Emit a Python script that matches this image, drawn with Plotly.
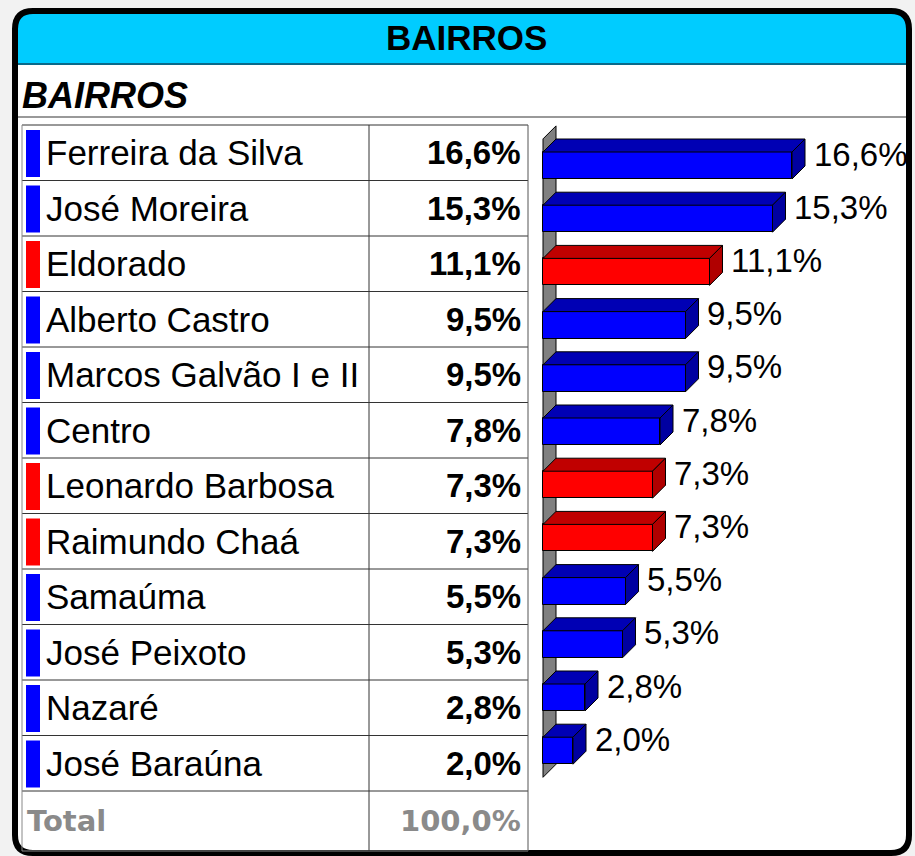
import plotly.graph_objects as go

# ---------------- data ----------------
bairros = ["Ferreira da Silva", "José Moreira", "Eldorado", "Alberto Castro",
           "Marcos Galvão I e II", "Centro", "Leonardo Barbosa", "Raimundo Chaá",
           "Samaúma", "José Peixoto", "Nazaré", "José Baraúna"]
percentuais = [16.6, 15.3, 11.1, 9.5, 9.5, 7.8, 7.3, 7.3, 5.5, 5.3, 2.8, 2.0]
grupo = ["A", "A", "B", "A", "A", "A", "B", "B", "A", "A", "A", "A"]
total_label = "Total"
total_valor = 100.0
titulo = "BAIRROS"
subtitulo = "BAIRROS"

# ---------------- style ----------------
W, H = 915, 856
FONT = "Liberation Sans, Arial, sans-serif"
front_col = {"A": "#0000FF", "B": "#FF0000"}
top_col = {"A": "#0000B4", "B": "#C00000"}
side_col = {"A": "#0000A0", "B": "#B00000"}


def fmt(v):
    return f"{v:.1f}".replace(".", ",") + "%"


def PX(x):
    return x / W


def PY(y):
    return 1 - y / H


n = len(bairros)
idx = list(range(n))

# bar axis geometry (pixel mapping)
bar_x0_px, bar_px_per_unit = 543, 15.0
bar_row0_px, bar_row_px = 165.5, 53.2
xdom = (530, 912)
y2dom = (120, 790)
x_range = [(xdom[0] - bar_x0_px) / bar_px_per_unit, (xdom[1] - bar_x0_px) / bar_px_per_unit]
y2_range = [(y2dom[1] - bar_row0_px) / bar_row_px, (y2dom[0] - bar_row0_px) / bar_row_px]

hh = 13.5 / bar_row_px       # half height of bar face
dx = 13 / bar_px_per_unit    # depth in x
dy = 13 / bar_row_px         # depth in y

# table axis geometry
tab_top_px, tab_row_px = 125, 55.5
ydom = (118, 856)
y_range = [(ydom[1] - tab_top_px) / tab_row_px, (ydom[0] - tab_top_px) / tab_row_px]
col_l, col_m, col_r = 22, 369, 528
tot_bottom = (851 - tab_top_px) / tab_row_px

fig = go.Figure()

# dummy trace to register table subplot
fig.add_trace(go.Scatter(x=[None], y=[None], xaxis="x2", yaxis="y",
                         showlegend=False, hoverinfo="skip"))

# front faces of bars
fig.add_trace(go.Bar(
    x=percentuais, y=idx, orientation="h", xaxis="x", yaxis="y2",
    width=2 * hh, base=0,
    marker=dict(color=[front_col[g] for g in grupo], line=dict(color="black", width=1)),
    showlegend=False, hoverinfo="skip"))

shapes = []
annotations = []

# ---- frame ----
L, T, R, B, r = 15, 11, 909, 853, 18
frame_path = (f"M {PX(L+r)},{PY(T)} L {PX(R-r)},{PY(T)} Q {PX(R)},{PY(T)} {PX(R)},{PY(T+r)} "
              f"L {PX(R)},{PY(B-r)} Q {PX(R)},{PY(B)} {PX(R-r)},{PY(B)} "
              f"L {PX(L+r)},{PY(B)} Q {PX(L)},{PY(B)} {PX(L)},{PY(B-r)} "
              f"L {PX(L)},{PY(T+r)} Q {PX(L)},{PY(T)} {PX(L+r)},{PY(T)} Z")
shapes.append(dict(type="path", xref="paper", yref="paper", path=frame_path,
                   fillcolor="white", line=dict(width=0), layer="below"))
hb = 64
head_path = (f"M {PX(L+r)},{PY(T)} L {PX(R-r)},{PY(T)} Q {PX(R)},{PY(T)} {PX(R)},{PY(T+r)} "
             f"L {PX(R)},{PY(hb)} L {PX(L)},{PY(hb)} L {PX(L)},{PY(T+r)} "
             f"Q {PX(L)},{PY(T)} {PX(L+r)},{PY(T)} Z")
shapes.append(dict(type="path", xref="paper", yref="paper", path=head_path,
                   fillcolor="#00CCFF", line=dict(width=0), layer="below"))
shapes.append(dict(type="line", xref="paper", yref="paper", x0=PX(L), x1=PX(R),
                   y0=PY(hb), y1=PY(hb), line=dict(color="#0a6a8a", width=2), layer="below"))
shapes.append(dict(type="line", xref="paper", yref="paper", x0=PX(L), x1=PX(R),
                   y0=PY(117), y1=PY(117), line=dict(color="#777777", width=1.5), layer="below"))
shapes.append(dict(type="path", xref="paper", yref="paper", path=frame_path,
                   fillcolor="rgba(0,0,0,0)", line=dict(color="black", width=6), layer="above"))

# ---- table ----
for k in range(n + 1):
    shapes.append(dict(type="line", xref="x2", yref="y", x0=col_l, x1=col_r, y0=k, y1=k,
                       line=dict(color="#333333", width=1)))
shapes.append(dict(type="line", xref="x2", yref="y", x0=col_l, x1=col_r, y0=tot_bottom, y1=tot_bottom,
                   line=dict(color="#888888", width=1)))
for xc, colr in ((col_l, "#888888"), (col_m, "#333333"), (col_r, "#555555")):
    shapes.append(dict(type="line", xref="x2", yref="y", x0=xc, x1=xc, y0=0, y1=tot_bottom,
                       line=dict(color=colr, width=1)))

for i, (nm, v, g) in enumerate(zip(bairros, percentuais, grupo)):
    shapes.append(dict(type="rect", xref="x2", yref="y", x0=26, x1=40,
                       y0=i + 0.09, y1=i + 0.937, fillcolor=front_col[g], line=dict(width=0)))
    annotations.append(dict(xref="x2", yref="y", x=44, y=i + 0.5, text=nm,
                            xanchor="left", yanchor="middle", showarrow=False,
                            font=dict(family=FONT, size=35, color="black")))
    annotations.append(dict(xref="x2", yref="y", x=523, y=i + 0.5, text=f"<b>{fmt(v)}</b>",
                            xanchor="right", yanchor="middle", showarrow=False,
                            font=dict(family=FONT, size=33, color="black")))

tot_c = (n + tot_bottom) / 2
annotations.append(dict(xref="x2", yref="y", x=25, y=tot_c, text=f"<b>{total_label}</b>",
                        xanchor="left", yanchor="middle", showarrow=False,
                        font=dict(family="DejaVu Sans", size=29, color="#8a8a8a")))
annotations.append(dict(xref="x2", yref="y", x=523, y=tot_c, text=f"<b>{fmt(total_valor)}</b>",
                        xanchor="right", yanchor="middle", showarrow=False,
                        font=dict(family="DejaVu Sans", size=29, color="#8a8a8a")))

# ---- 3D bars ----
shapes.append(dict(type="path", xref="x", yref="y2", layer="below",
                   path=f"M 0,{-0.5} L {dx},{-0.5-dy} L {dx},{n-0.5-dy} L 0,{n-0.5} Z",
                   fillcolor="#808080", line=dict(color="black", width=1)))
for i, (v, g) in enumerate(zip(percentuais, grupo)):
    yt, yb = i - hh, i + hh
    shapes.append(dict(type="path", xref="x", yref="y2", layer="above",
                       path=f"M 0,{yt} L {v},{yt} L {v+dx},{yt-dy} L {dx},{yt-dy} Z",
                       fillcolor=top_col[g], line=dict(color="black", width=1)))
    shapes.append(dict(type="path", xref="x", yref="y2", layer="above",
                       path=f"M {v},{yt} L {v+dx},{yt-dy} L {v+dx},{yb-dy} L {v},{yb} Z",
                       fillcolor=side_col[g], line=dict(color="black", width=1)))
    annotations.append(dict(xref="x", yref="y2", x=v + dx + 0.45, y=i - 0.216, text=fmt(v),
                            xanchor="left", yanchor="middle", showarrow=False,
                            font=dict(family=FONT, size=33, color="black")))

# ---- titles ----
annotations.append(dict(xref="paper", yref="paper", x=PX(466), y=PY(38), text=f"<b>{titulo}</b>",
                        xanchor="center", yanchor="middle", showarrow=False,
                        font=dict(family=FONT, size=35, color="black")))
annotations.append(dict(xref="paper", yref="paper", x=PX(20), y=PY(95), text=f"<b><i>{subtitulo}</i></b>",
                        xanchor="left", yanchor="middle", showarrow=False,
                        font=dict(family=FONT, size=36, color="black")))

ax_common = dict(visible=False, fixedrange=True, showgrid=False, zeroline=False)
fig.update_layout(
    width=W, height=H, margin=dict(l=0, r=0, t=0, b=0),
    paper_bgcolor="#f2f2f2", plot_bgcolor="rgba(0,0,0,0)",
    showlegend=False, bargap=0,
    xaxis=dict(domain=[PX(xdom[0]), PX(xdom[1])], range=x_range, anchor="y2", **ax_common),
    yaxis2=dict(domain=[PY(y2dom[1]), PY(y2dom[0])], range=y2_range, anchor="x", **ax_common),
    xaxis2=dict(domain=[0, PX(530)], range=[0, 530], anchor="y", **ax_common),
    yaxis=dict(domain=[PY(ydom[1]), PY(ydom[0])], range=y_range, anchor="x2", **ax_common),
    shapes=shapes, annotations=annotations,
)

fig.write_html("out.html", config={"displayModeBar": False},
               post_script="document.body.style.margin='0';document.body.style.overflow='hidden';")
